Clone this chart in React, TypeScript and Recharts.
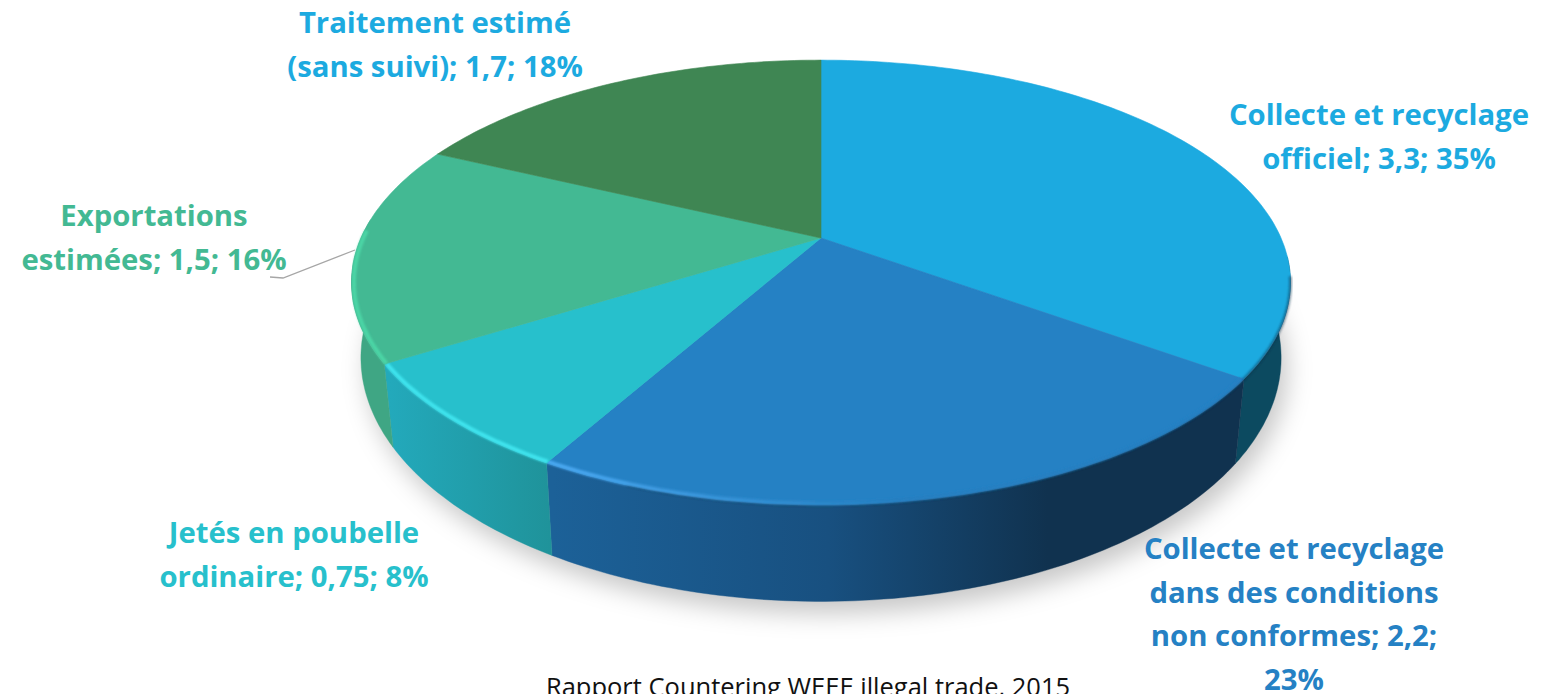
import { PieChart, Pie } from 'recharts';

const W = 1545;
const H = 694;

// slice data (millions of tonnes), clockwise from 12 o'clock
const nameLines = [
  ['Collecte et recyclage', 'officiel'],
  ['Collecte et recyclage', 'dans des conditions', 'non conformes'],
  ['Jetés en poubelle', 'ordinaire'],
  ['Exportations', 'estimées'],
  ['Traitement estimé', '(sans suivi)'],
];
const values = [3.3, 2.2, 0.75, 1.5, 1.7];
// the 23% wraps onto its own line
const percentOnOwnLine = [false, true, false, false, false];

const topColors = ['#1CAAE0', '#2581C4', '#27C0CC', '#43B993', '#3F8653'];
const labelColors = ['#1CAAE0', '#2581C4', '#27C0CC', '#43B993', '#1CAAE0'];
const rimColors = ['none', 'url(#rim1)', '#3FE4EE', '#4CD6A6', 'none'];
const wallFills = ['#0C4A60', 'url(#wall1)', 'url(#wall2)', '#3FA684', 'none'];

// centre x and first line centre y of each label
const labelAnchors = [
  [1379, 115],
  [1294, 549],
  [294, 533],
  [154, 216],
  [435, 23],
];
const LINE_HEIGHT = 43.5;

const total = values.reduce((a, b) => a + b, 0);
const tableData = values.map((value, idx) => ({ name: nameLines[idx].join(' '), value, idx }));

// pie tilted away from the viewer, in perspective
const PERSPECTIVE = 0.2;
const TILT = 0.464;
const project = (cx: number, cy: number, r: number, angle: number, floor = false) => {
  const t = ((90 - angle) * Math.PI) / 180;
  const x = Math.sin(t);
  const y = -Math.cos(t);
  const d = 1 - PERSPECTIVE * y;
  const dx = (r * x) / d;
  const dy = (r * TILT * y) / d;
  if (floor) return [cx + dx * 0.98, cy + 71 + dy * 1.096];
  return [cx + dx, cy + dy];
};

const arcPoints = (cx: number, cy: number, r: number, from: number, to: number, floor = false) => {
  const steps = Math.max(2, Math.ceil(Math.abs(to - from)));
  const pts: number[][] = [];
  for (let i = 0; i <= steps; i++) {
    pts.push(project(cx, cy, r, from + ((to - from) * i) / steps, floor));
  }
  return pts;
};

const toPath = (pts: number[][]) =>
  pts.map((p, i) => `${i ? 'L' : 'M'}${p[0].toFixed(1)} ${p[1].toFixed(1)}`).join(' ');

// angles of the rim that faces the viewer
const FRONT_START = -5;
const FRONT_END = -185;

function PieSlice(props: any) {
  const { cx, cy, outerRadius: r, startAngle, endAngle, idx } = props;
  const wallFrom = Math.min(startAngle, FRONT_START);
  const wallTo = Math.max(endAngle, FRONT_END);
  const hasWall = wallFrom > wallTo && wallFills[idx] !== 'none';
  const rim = arcPoints(cx, cy, r, startAngle, endAngle);
  const top = `M${cx} ${cy} ${toPath(rim).replace('M', 'L')} Z`;
  const wall = hasWall
    ? toPath([
        ...arcPoints(cx, cy, r, wallFrom, wallTo),
        ...arcPoints(cx, cy, r, wallTo, wallFrom, true),
      ]) + ' Z'
    : '';
  // dark edge only where the rim meets the wall on the right
  const shadeFrom = Math.min(startAngle, -10);
  const shadeTo = Math.max(endAngle, -110);
  // bevel highlight runs along the left front rim
  const glowFrom = startAngle;
  const glowTo = Math.max(endAngle, idx === 3 ? -182 : endAngle);

  return (
    <g>
      {idx === 0 && (
        <path
          d={toPath(arcPoints(cx + 6, cy + 12, r, 0, 360, true)) + ' Z'}
          fill="#000"
          fillOpacity={0.22}
          filter="url(#pieShadow)"
        />
      )}
      {hasWall && <path d={wall} fill={wallFills[idx]} stroke={wallFills[idx]} strokeWidth={0.4} />}
      <path d={top} fill={topColors[idx]} stroke={topColors[idx]} strokeWidth={0.6} />
      {idx < 2 && shadeFrom > shadeTo && (
        <path
          d={toPath(arcPoints(cx, cy, r, shadeFrom, shadeTo))}
          fill="none"
          stroke="#0d2f4a"
          strokeOpacity={0.5}
          strokeWidth={3}
          filter="url(#rimBlur)"
        />
      )}
      {rimColors[idx] !== 'none' && (
        <path
          d={toPath(arcPoints(cx, cy, r * 0.995, glowFrom, glowTo))}
          fill="none"
          stroke={rimColors[idx]}
          strokeWidth={4}
          filter="url(#rimBlur)"
        />
      )}
    </g>
  );
}

const pieLabelFont = {
  fontFamily: '"Open Sans", sans-serif',
  fontWeight: 700,
  fontSize: 29.3,
};

function SliceLabel(props: any) {
  const { index } = props;
  const value = values[index];
  const pct = `${Math.round((value / total) * 100)}%`;
  const valueText = String(value).replace('.', ',');
  const lines = [...nameLines[index]];
  const last = lines.length - 1;
  if (percentOnOwnLine[index]) {
    lines[last] = `${lines[last]}; ${valueText};`;
    lines.push(pct);
  } else {
    lines[last] = `${lines[last]}; ${valueText}; ${pct}`;
  }
  const [x, y] = labelAnchors[index];
  return (
    <g>
      {index === 3 && (
        <polyline points="270,277 283,278 355,250" fill="none" stroke="#A6A6A6" strokeWidth={1.3} />
      )}
      {lines.map((line, i) => (
        <text
          key={i}
          x={x}
          y={y + i * LINE_HEIGHT + 10}
          textAnchor="middle"
          fill={labelColors[index]}
          {...pieLabelFont}
        >
          {line}
        </text>
      ))}
    </g>
  );
}

export default function App() {
  return (
    <div style={{ position: 'absolute', left: 0, top: 0, width: W, height: H, overflow: 'hidden', background: '#fff' }}>
      <PieChart width={W} height={H} margin={{ top: 0, right: 0, bottom: 0, left: 0 }}>
        <defs>
          <linearGradient id="wall1" gradientUnits="userSpaceOnUse" x1={553} x2={1240} y1={0} y2={0}>
            <stop offset="0" stopColor="#1C6198" />
            <stop offset="0.4" stopColor="#185080" />
            <stop offset="0.72" stopColor="#10324F" />
            <stop offset="1" stopColor="#10324F" />
          </linearGradient>
          <linearGradient id="wall2" gradientUnits="userSpaceOnUse" x1={390} x2={556} y1={0} y2={0}>
            <stop offset="0" stopColor="#23A9BB" />
            <stop offset="1" stopColor="#1F9299" />
          </linearGradient>
          <linearGradient id="rim1" gradientUnits="userSpaceOnUse" x1={553} x2={900} y1={0} y2={0}>
            <stop offset="0" stopColor="#4AA9F2" />
            <stop offset="1" stopColor="#2581C4" />
          </linearGradient>
          <filter id="pieShadow" x="-10%" y="-10%" width="120%" height="120%">
            <feGaussianBlur stdDeviation="12" />
          </filter>
          <filter id="rimBlur" x="-5%" y="-5%" width="110%" height="110%">
            <feGaussianBlur stdDeviation="1.2" />
          </filter>
        </defs>
        <Pie
          data={tableData}
          dataKey="value"
          nameKey="name"
          cx={821}
          cy={238}
          outerRadius={460}
          startAngle={90}
          endAngle={-270}
          stroke="none"
          shape={PieSlice}
          label={SliceLabel}
          labelLine={false}
          isAnimationActive={false}
        />
        <text
          x={808}
          y={696}
          textAnchor="middle"
          fill="#111"
          fontFamily='"Open Sans", sans-serif'
          fontSize={25.5}
        >
          Rapport Countering WEEE illegal trade, 2015
        </text>
      </PieChart>
    </div>
  );
}
